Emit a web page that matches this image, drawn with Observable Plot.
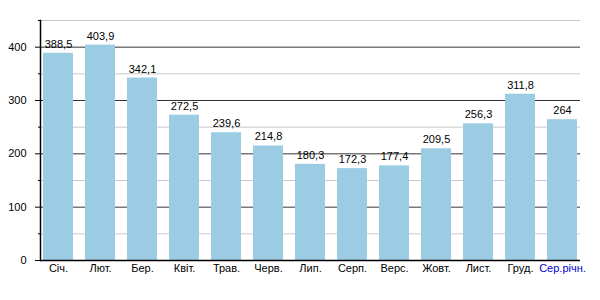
<!DOCTYPE html>
<html><head><meta charset="utf-8">
<script src="https://cdn.jsdelivr.net/npm/d3@7"></script>
<script src="https://cdn.jsdelivr.net/npm/@observablehq/plot@0.6"></script>
<style>body{margin:0;background:#fff;font-family:"Liberation Sans",Arial,sans-serif;}</style>
</head><body><div id="chart"></div>
<script>
const months = ["Січ.","Лют.","Бер.","Квіт.","Трав.","Черв.","Лип.","Серп.","Верс.","Жовт.","Лист.","Груд.","Сер.річн."];
const values = [388.5,403.9,342.1,272.5,239.6,214.8,180.3,172.3,177.4,209.5,256.3,311.8,264];
const majorTicks = [0,100,200,300,400];
const minorTicks = [50,150,250,350,450];
const data = months.map((m,i)=>({m, v: values[i]}));
const fmt = v => String(v).replace(".", ",");
const chart = Plot.plot({
  width: 600, height: 300,
  marginLeft: 40, marginRight: 20, marginTop: 20, marginBottom: 40,
  style: {fontFamily: '"Liberation Sans", Arial, sans-serif', fontSize: "11px", background: "#fff", color: "#000"},
  x: {domain: months, paddingInner: 0.28, paddingOuter: 0, label: null},
  y: {domain: [0,450], label: null},
  marks: [
    Plot.ruleY(minorTicks, {stroke: "#c8c8c8", strokeWidth: 1}),
    Plot.ruleY(majorTicks.slice(1), {stroke: "#333", strokeWidth: 1}),
    Plot.barY(data, {x: "m", y: "v", fill: "#9ccbe4"}),
    Plot.ruleY([0], {stroke: "#000", strokeWidth: 1.5}),
    Plot.frame({anchor: "left", stroke: "#000", strokeWidth: 1.5}),
    Plot.axisY(majorTicks, {tickSize: 5, tickPadding: 9, fontSize: 11, tickFormat: d => d}),
    Plot.axisY(minorTicks, {tickSize: 2, tickFormat: () => ""}),
    Plot.axisX({tickSize: 0, tickPadding: 4, fontSize: 11, fill: d => d === "Сер.річн." ? "#0000cc" : "#000"}),
    Plot.text(data, {x: "m", y: "v", text: d => fmt(d.v), dy: -9, fontSize: 11, fill: "#000"})
  ]
});
document.getElementById("chart").appendChild(chart);
</script></body></html>
